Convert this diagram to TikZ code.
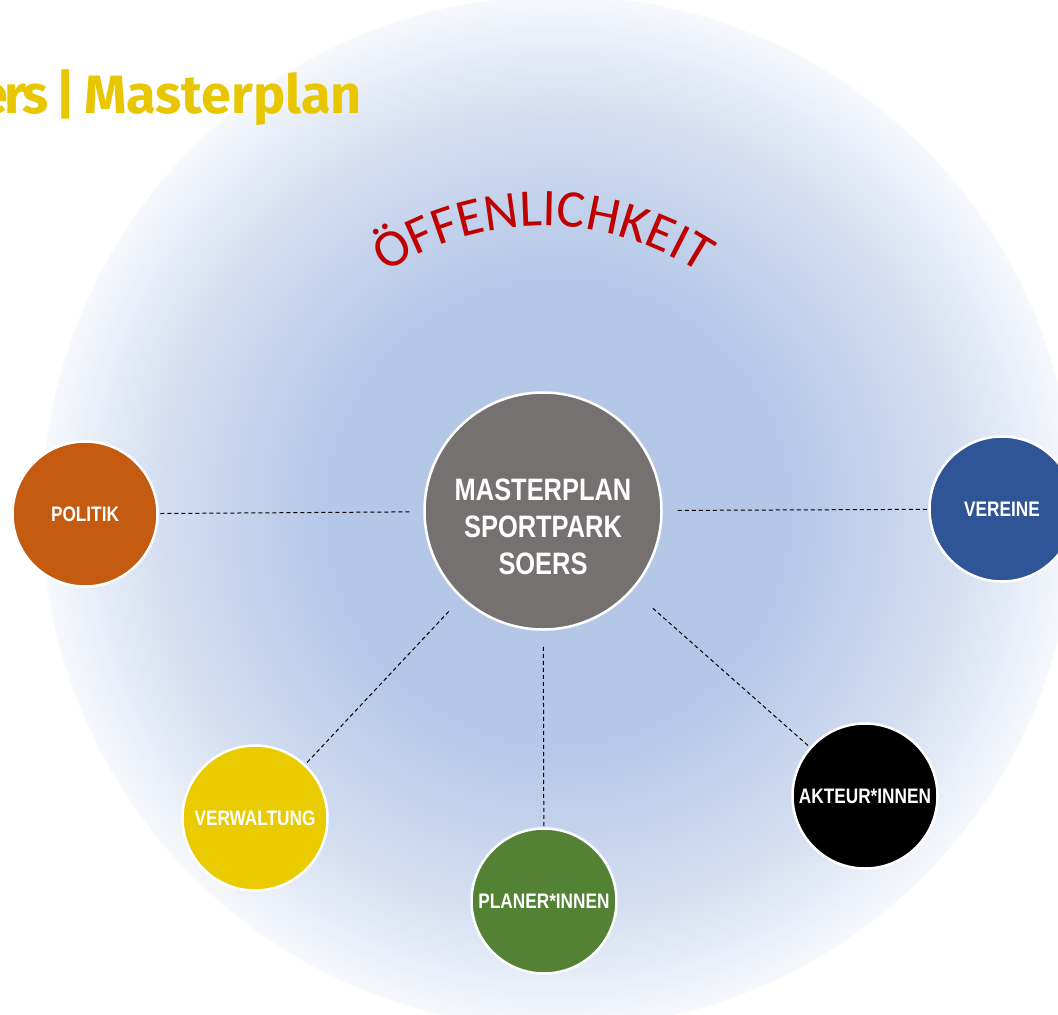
\documentclass[tikz,border=0pt]{standalone}
\usepackage{fontspec}
\usepackage{xcolor}
\usepackage{tikz}
\usetikzlibrary{decorations.text}

\newfontfamily\narrowsans[FakeStretch=0.82]{Liberation Sans}
\newfontfamily\calibrisans{Carlito}
\newfontfamily\titlesans{Fira Sans}

\definecolor{bgin}{RGB}{180,199,231}
\definecolor{bgmid}{RGB}{210,221,240}
\definecolor{bgout}{RGB}{246,248,252}
\definecolor{oeffred}{RGB}{192,0,0}
\definecolor{titleyellow}{RGB}{232,199,0}
\definecolor{politikorange}{RGB}{197,90,17}
\definecolor{vereineblue}{RGB}{47,85,151}
\definecolor{verwaltungyellow}{RGB}{234,203,0}
\definecolor{planergreen}{RGB}{84,130,53}
\definecolor{mastergray}{RGB}{118,113,113}

\pgfdeclareradialshading{oeffshade}{\pgfpoint{0bp}{0bp}}{color(0bp)=(bgin); color(11bp)=(bgin); color(19bp)=(bgmid); color(25bp)=(bgout); color(50bp)=(bgout)}

\begin{document}
\begin{tikzpicture}[x=1pt, y=-1pt,
  stake/.style={circle, draw=white, line width=2.5pt, minimum size=145pt,
    inner sep=0pt, text=white, align=center,
    font=\narrowsans\bfseries\fontsize{21}{24}\selectfont},
  link/.style={black, line width=1pt, dash pattern=on 4pt off 3pt}]
  \useasboundingbox (0,0) rectangle (1058,1015);
  \fill[white] (0,0) rectangle (1058,1015);
  \shade[shading=oeffshade] (558,512) circle[radius=516];

  \node[anchor=base east, text=titleyellow, inner sep=0pt,
    font=\titlesans\bfseries\fontsize{54}{54}\selectfont] (title) at (362,113)
    {e\kern-4pt r\kern-3pt s\hspace{7pt}|\hspace{8pt}Masterplan};

  \path[decorate, decoration={text along path, text align=center,
    text={|\calibrisans\fontsize{53}{53}\selectfont\color{oeffred}|ÖFFENLICHKEIT}}]
    (543,511) ++(-125:285) arc[start angle=-125, end angle=-55, radius=285];

  \node[stake, fill=mastergray, minimum size=237pt, text height=128pt,
    font=\narrowsans\bfseries\fontsize{31}{37}\selectfont] (master) at (543,511)
    {MASTERPLAN\\SPORTPARK\\SOERS};
  \node[stake, fill=politikorange] (politik) at (85,514) {POLITIK};
  \node[stake, fill=vereineblue] (vereine) at (1002,509) {VEREINE};
  \node[stake, fill=verwaltungyellow] (verwaltung) at (255,818) {VERWALTUNG};
  \node[stake, fill=planergreen] (planer) at (544,901) {PLANER*INNEN};
  \node[stake, fill=black] (akteur) at (865,796) {AKTEUR*INNEN};

  \foreach \n/\g in {politik/14, vereine/15, verwaltung/18, planer/16, akteur/27}
    \draw[link, shorten <=\g pt] (master) -- (\n);
\end{tikzpicture}
\end{document}
